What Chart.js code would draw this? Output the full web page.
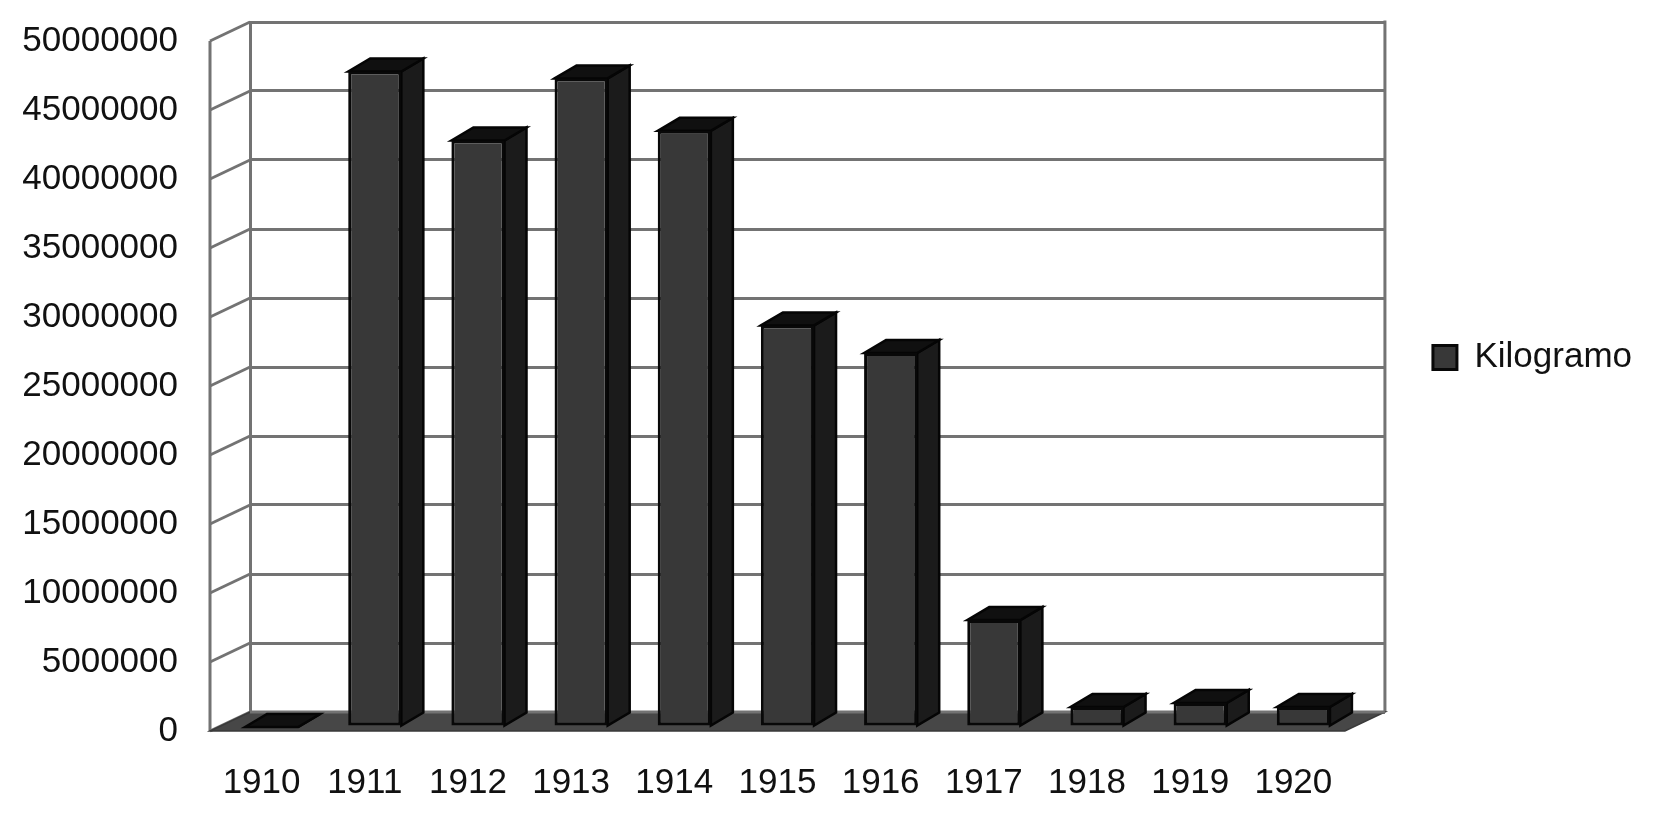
<!DOCTYPE html>
<html>
<head>
<meta charset="utf-8">
<title>Kilogramo 1910-1920</title>
<script src="https://cdn.jsdelivr.net/npm/chart.js@4.4.1/dist/chart.umd.min.js"></script>
<style>
    html, body { margin: 0; padding: 0; background: #fff; }
    #wrap { width: 1654px; height: 817px; position: relative; }
</style>
</head>
<body>
<div id="wrap"><canvas id="kgChart"></canvas></div>
<script>
const years = ['1910', '1911', '1912', '1913', '1914', '1915', '1916', '1917', '1918', '1919', '1920'];
const kilogramos = [0, 47500000, 42500000, 47000000, 43200000, 29100000, 27100000, 7750000, 1450000, 1740000, 1450000];
const yTicks = [0, 5000000, 10000000, 15000000, 20000000, 25000000, 30000000, 35000000, 40000000, 45000000, 50000000];

// pseudo 3D geometry (pixels)
const WALL_DEPTH = { dx: -40, dy: 19 };
const BAR_SHIFT = { dx: -30, dy: 15 };
const BAR_DEPTH = { dx: 22, dy: -13 };

const GRID_COLOR = '#737373';
const FLOOR_COLOR = '#474747';

function poly(ctx, pts, fill, stroke, lw) {
    ctx.beginPath();
    ctx.moveTo(pts[0][0], pts[0][1]);
    for (let i = 1; i < pts.length; i++) ctx.lineTo(pts[i][0], pts[i][1]);
    ctx.closePath();
    if (fill) { ctx.fillStyle = fill; ctx.fill(); }
    if (stroke) { ctx.strokeStyle = stroke; ctx.lineWidth = lw; ctx.lineJoin = 'miter'; ctx.stroke(); }
}

function line(ctx, x1, y1, x2, y2, color, lw) {
    ctx.beginPath();
    ctx.moveTo(x1, y1);
    ctx.lineTo(x2, y2);
    ctx.strokeStyle = color;
    ctx.lineWidth = lw;
    ctx.stroke();
}

const box3d = {
    id: 'box3d',
    beforeDatasetsDraw(chart) {
        const ctx = chart.ctx;
        const area = chart.chartArea;
        const y = chart.scales.y;
        const y0 = y.getPixelForValue(0);
        const yTop = y.getPixelForValue(yTicks[yTicks.length - 1]);

        ctx.save();
        // side wall: slanted grid lines + front edge
        yTicks.forEach(v => {
            const py = y.getPixelForValue(v);
            line(ctx, area.left + WALL_DEPTH.dx, py + WALL_DEPTH.dy, area.left, py, GRID_COLOR, 3);
        });
        line(ctx, area.left + WALL_DEPTH.dx, yTop + WALL_DEPTH.dy, area.left + WALL_DEPTH.dx, y0 + WALL_DEPTH.dy, GRID_COLOR, 3);
        // right edge of the back wall
        line(ctx, area.right, yTop - 1.5, area.right, y0, GRID_COLOR, 3);

        // floor
        poly(ctx, [
            [area.left, y0],
            [area.right, y0],
            [area.right + WALL_DEPTH.dx, y0 + WALL_DEPTH.dy],
            [area.left + WALL_DEPTH.dx, y0 + WALL_DEPTH.dy]
        ], FLOOR_COLOR, '#3a3a3a', 1.5);
        line(ctx, area.left, y0, area.right, y0, GRID_COLOR, 3);
        ctx.restore();

        // shift the bars towards the viewer and draw their side and top faces
        ctx.save();
        ctx.translate(BAR_SHIFT.dx, BAR_SHIFT.dy);
        const meta = chart.getDatasetMeta(0);
        meta.data.forEach(bar => {
            const p = bar.getProps(['x', 'y', 'base', 'width'], true);
            const xl = p.x - p.width / 2;
            const xr = p.x + p.width / 2;
            const top = Math.min(p.y, p.base);
            const bottom = Math.max(p.y, p.base);
            poly(ctx, [
                [xr, top],
                [xr + BAR_DEPTH.dx, top + BAR_DEPTH.dy],
                [xr + BAR_DEPTH.dx, bottom + BAR_DEPTH.dy],
                [xr, bottom]
            ], '#1b1b1b', '#050505', 2.5);
            poly(ctx, [
                [xl, top],
                [xl + BAR_DEPTH.dx, top + BAR_DEPTH.dy],
                [xr + BAR_DEPTH.dx, top + BAR_DEPTH.dy],
                [xr, top]
            ], '#101010', '#050505', 2.5);
        });
    },
    afterDatasetsDraw(chart) {
        chart.ctx.restore();
    }
};

Chart.defaults.font.family = '"Liberation Sans", Arial, sans-serif';
Chart.defaults.font.size = 35;
Chart.defaults.color = '#111';

new Chart(document.getElementById('kgChart'), {
    type: 'bar',
    data: {
        labels: years,
        datasets: [{
            label: 'Kilogramo',
            data: kilogramos,
            backgroundColor: '#383838',
            borderColor: '#080808',
            borderWidth: 3,
            borderSkipped: false,
            categoryPercentage: 1,
            barPercentage: 0.515,
            clip: false
        }]
    },
    options: {
        responsive: true,
        maintainAspectRatio: false,
        animation: false,
        layout: {
            padding: { top: 22, right: 12, bottom: 0, left: 0 }
        },
        plugins: {
            legend: {
                position: 'right',
                align: 'start',
                title: {
                    display: true,
                    text: '',
                    font: { size: 10 },
                    padding: { top: 258, bottom: 0 }
                },
                labels: {
                    boxWidth: 24,
                    boxHeight: 24,
                    padding: 48,
                    color: '#111',
                    font: { size: 35 }
                }
            },
            tooltip: { enabled: false }
        },
        scales: {
            x: {
                grid: { display: false, drawTicks: false },
                border: { display: false },
                ticks: {
                    autoSkip: false,
                    maxRotation: 0,
                    padding: 50,
                    labelOffset: WALL_DEPTH.dx,
                    color: '#111'
                },
                afterFit(scale) { scale.height = 105; }
            },
            y: {
                min: yTicks[0],
                max: yTicks[yTicks.length - 1],
                grid: { color: GRID_COLOR, lineWidth: 3, drawTicks: false },
                border: { display: true, color: GRID_COLOR, width: 3 },
                ticks: {
                    stepSize: yTicks[1] - yTicks[0],
                    padding: 72,
                    labelOffset: WALL_DEPTH.dy,
                    color: '#111',
                    callback: v => String(v)
                },
                afterFit(scale) {
                    scale.width = 250;
                    scale.paddingTop = 0;
                    scale.paddingBottom = 0;
                }
            }
        }
    },
    plugins: [box3d]
});
</script>
</body>
</html>
